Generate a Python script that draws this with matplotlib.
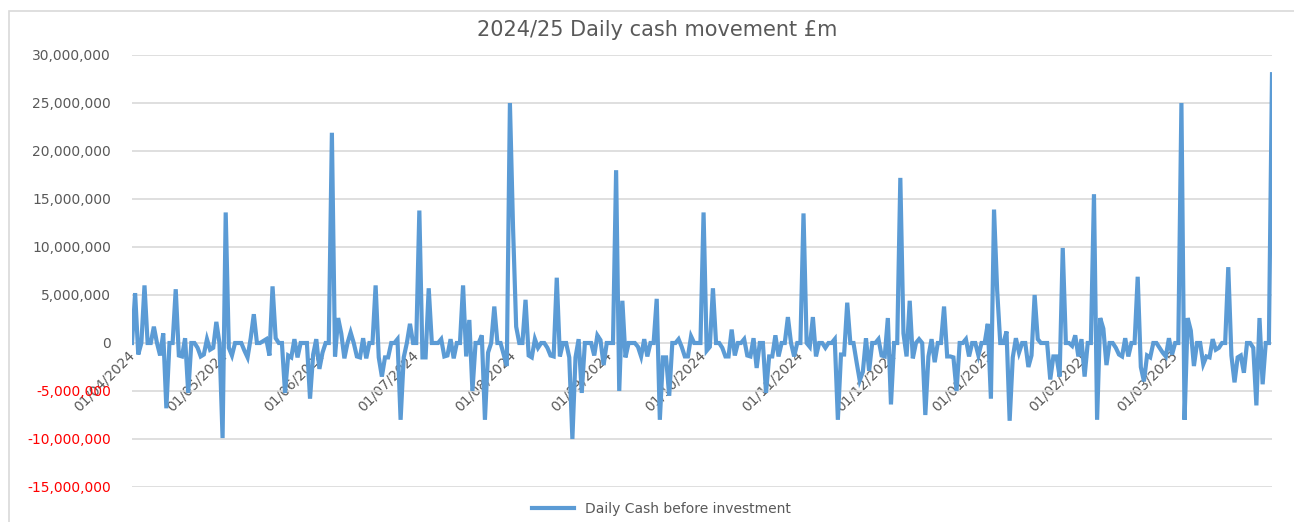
import matplotlib
matplotlib.use("Agg")
import matplotlib.pyplot as plt
import matplotlib.dates as mdates
from matplotlib.patches import Rectangle
import pandas as pd

# daily cash movement, £m, one list per month (Apr 2024 .. Apr 2025)
apr_24 = [0, 5.2, -1.2, 0, 6.0, 0, 0, 1.7, 0, -1.3, 1.0, -6.8, 0, 0, 5.6, -1.3, -1.4, 0.5, -5.2, 0,
          0, -0.5, -1.4, -1.2, 0.4, -0.7, -0.5, 2.2, 0, -9.9]
may_24 = [13.6, -0.5, -1.3, 0, 0, 0, -0.8, -1.5, 0.5, 3.0, 0, 0, 0.2, 0.4, -1.3, 5.9, 0.5, 0, 0, -5.2,
          -1.3, -1.5, 0.4, -1.5, 0, 0, 0, -5.8, -1.2, 0.4, -2.7]
jun_24 = [-1.0, 0, 0, 21.9, -1.4, 2.6, 1.0, -1.6, 0, 1.1, 0, -1.4, -1.5, 0.5, -1.6, 0, 0, 6.0, -1.5, -3.5,
          -1.5, -1.5, 0, 0, 0.4, -8.0, -1.5, 0, 2.0, 0]
jul_24 = [0, 13.8, -1.5, -1.5, 5.7, 0, 0, 0, 0.4, -1.4, -1.3, 0.4, -1.6, 0, 0, 6.0, -1.4, 2.4, -5.0, 0,
          0, 0.8, -8.0, -1.0, 0, 3.8, 0, 0, -1.2, -2.4, 25.0]
aug_24 = [12.0, 1.7, 0, 0, 4.5, -1.3, -1.5, 0.4, -0.5, 0, 0, -0.5, -1.3, -1.4, 6.8, -1.4, 0, 0, -1.5, -10.0,
          -1.5, 0.4, -5.2, 0, 0, 0, -1.3, 0.8, 0.3, -2.3, 0]
sep_24 = [0, 0, 18.0, -5.0, 4.4, -1.5, 0, 0, 0, -0.4, -1.4, 0.4, -1.4, 0, 0, 4.6, -8.0, -1.5, -1.5, -5.5,
          0, 0, 0.4, -0.4, -1.4, -1.4, 0.7, 0, 0, 0]
oct_24 = [13.6, -0.8, -0.4, 5.7, 0, 0, -0.5, -1.4, -1.4, 1.4, -1.3, 0, 0, 0.4, -1.3, -1.4, 0.5, -2.6, 0, 0,
          -5.2, -1.4, -1.4, 0.8, -1.4, 0, 0, 2.7, 0, -1.4, 0]
nov_24 = [0, 13.5, 0, -0.4, 2.7, -1.4, 0, 0, -0.5, 0, 0, 0.4, -8.0, -1.2, -1.2, 4.2, 0, 0, -2.0, -3.9,
          -3.0, 0.5, -2.9, 0, 0, 0.4, -1.3, -1.4, 2.6, -6.4]
dec_24 = [0, 0, 17.2, 1.0, -1.4, 4.4, -1.6, 0, 0.4, 0, -7.5, -1.4, 0.4, -2.0, 0, 0, 3.8, -1.4, -1.4, -1.5,
          -5.0, 0, 0, 0.4, -1.4, 0, 0, -1.3, 0, 0, 2.0]
jan_25 = [-5.8, 13.9, 5.5, 0, 0, 1.2, -8.1, -1.5, 0.5, -1.0, 0, 0, -2.5, -1.3, 5.0, 0.4, 0, 0, 0, -3.8,
          -1.4, -1.4, -3.5, 9.9, 0, 0, -0.3, 0.8, -1.4, 0.4, -3.5]
feb_25 = [0, 0, 15.5, -8.0, 2.6, 1.5, -2.3, 0, 0, -0.5, -1.2, -1.4, 0.5, -1.4, 0, 0, 6.9, -2.5, -4.0, -1.3,
          -1.5, 0, 0, -0.5, -1.0, -1.4, 0.5, -1.2]
mar_25 = [0, 0, 25.0, -8.0, 2.6, 1.3, -2.4, 0, 0, -2.2, -1.4, -1.5, 0.4, -0.7, -0.5, 0, 0, 7.9, -1.3, -4.1,
          -1.5, -1.3, -3.1, 0, 0, -0.5, -6.5, 2.6, -4.3, 0, 0]
apr_25 = [28.0]

months = [apr_24, may_24, jun_24, jul_24, aug_24, sep_24, oct_24, nov_24, dec_24, jan_25, feb_25, mar_25, apr_25]
cash = [v * 1e6 for m in months for v in m]
dates = pd.date_range("2024-04-01", periods=len(cash), freq="D")
month_starts = pd.date_range("2024-04-01", "2025-03-01", freq="MS")
y_ticks = list(range(-15_000_000, 30_000_001, 5_000_000))

grey = "#595959"
fig = plt.figure(figsize=(12.94, 5.22), dpi=100)
ax = fig.add_axes([132 / 1294, 1 - 487 / 522, (1272 - 132) / 1294, 432 / 522])

ax.plot(dates, cash, color="#5B9BD5", lw=3.0, zorder=3, solid_joinstyle="miter",
        label="Daily Cash before investment")

ax.set_xlim(dates[0], dates[-1])
ax.set_ylim(-15_000_000, 30_000_000)
ax.set_yticks(y_ticks)
ax.set_yticklabels(["0" if t == 0 else f"{t:,}" for t in y_ticks])
for lab, t in zip(ax.get_yticklabels(), y_ticks):
    lab.set_color("#FF0000" if t < 0 else grey)
ax.tick_params(axis="y", length=0, pad=15, labelsize=10)

# x labels sit on the zero line, like Excel
ax.spines["bottom"].set_position(("data", 0))
ax.set_xticks(month_starts)
ax.xaxis.set_major_formatter(mdates.DateFormatter("%d/%m/%Y"))
ax.tick_params(axis="x", length=0, pad=7, labelsize=10, labelcolor=grey)
for lab in ax.get_xticklabels():
    lab.set_rotation(45)
    lab.set_ha("right")
    lab.set_va("center")
    lab.set_rotation_mode("anchor")

for s in ax.spines.values():
    s.set_visible(False)
ax.grid(axis="y", color="#d9d9d9", lw=1.2)
ax.set_axisbelow(True)

fig.text(0.508, 1 - 30 / 522, "2024/25 Daily cash movement £m", ha="center", va="center",
         fontsize=15, color=grey)
fig.legend(loc="center", bbox_to_anchor=(0.511, 1 - 509 / 522), frameon=False,
           fontsize=10, labelcolor=grey, handlelength=3)

# chart border
fig.patches.append(Rectangle((9 / 1294, -0.1), 1.1, 1.1 - 11 / 522, transform=fig.transFigure,
                             fill=False, edgecolor="#d9d9d9", lw=1.2))

fig.savefig("out.png", dpi=100)
